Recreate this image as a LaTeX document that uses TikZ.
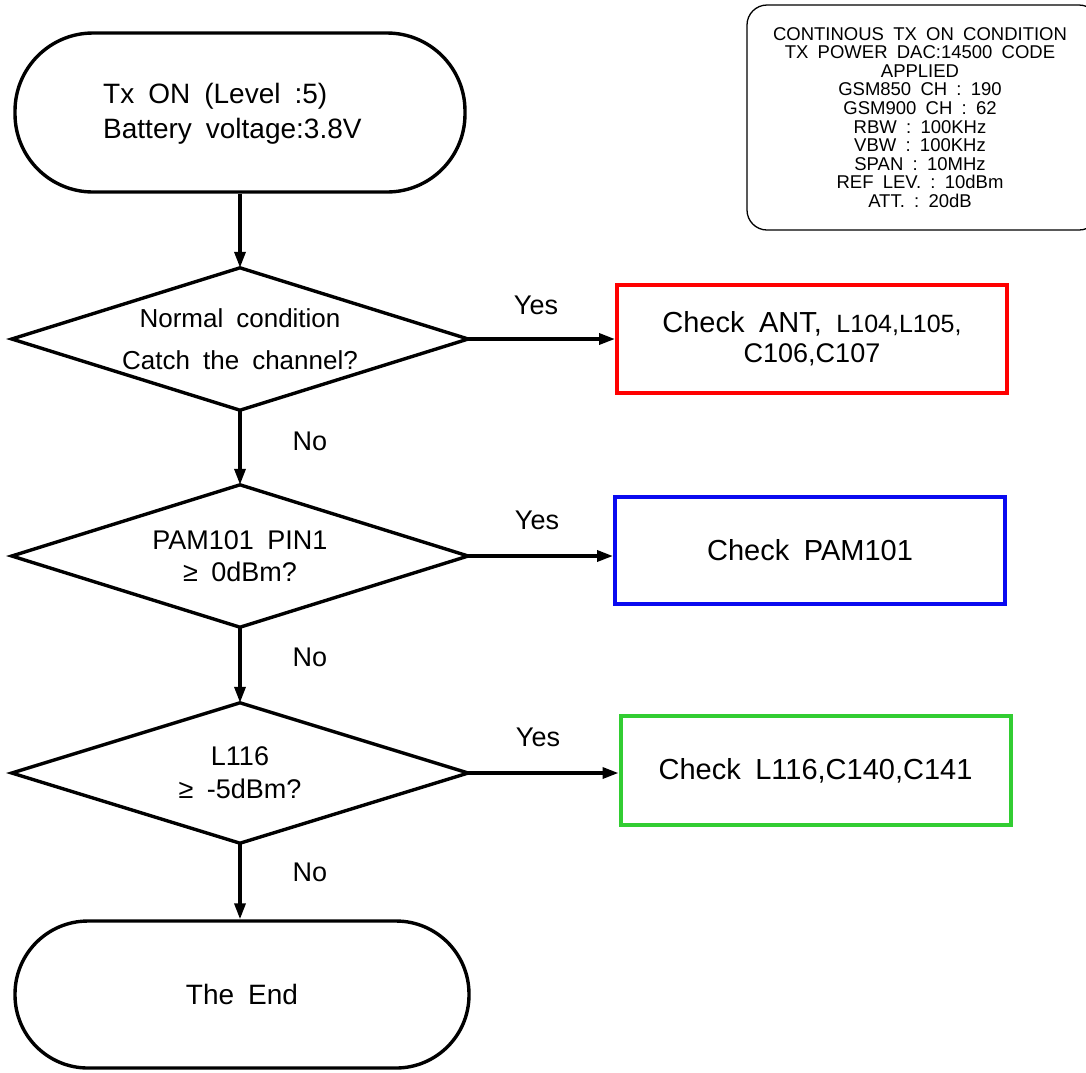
\documentclass[tikz,border=0pt]{standalone}
\usepackage{fontspec}
\setmainfont{Liberation Sans}
\usetikzlibrary{arrows.meta}
\newcommand\wsp{\hspace{0.5em}}
\definecolor{cred}{RGB}{255,0,0}
\definecolor{cblue}{RGB}{10,10,240}
\definecolor{cgreen}{RGB}{50,205,50}
\begin{document}
\begin{tikzpicture}[x=1pt,y=-1pt,
  arr/.style={line width=3.4pt,-{Triangle[length=16pt,width=11pt]}},
  term/.style={draw,line width=3.4pt,rectangle,inner sep=0pt},
  dec/.style={rectangle,inner sep=0pt,align=center,minimum width=456pt},
  decline/.style={line width=3.4pt,line join=miter},
  chk/.style={draw,line width=4pt,rectangle,inner sep=0pt,align=center,
    minimum width=390pt,minimum height=108pt,font=\fontsize{29}{30}\selectfont},
  lbl/.style={font=\fontsize{27}{30}\selectfont,inner sep=0pt}]
\useasboundingbox (0,0) rectangle (1086,1072);

% info box
\node[draw,line width=1.3pt,rounded corners=20pt,minimum width=352pt,minimum height=225pt,
  align=center,inner sep=0pt,font=\fontsize{18.5}{18.6}\selectfont] (info) at (923,117.5)
  {\hspace*{-6pt}CONTINOUS\wsp TX\wsp ON\wsp CONDITION\\
   \hspace*{-6pt}TX\wsp POWER\wsp DAC:14500\wsp CODE\\
   \hspace*{-6pt}APPLIED\\
   \hspace*{-6pt}GSM850\wsp CH\wsp :\wsp 190\\
   \hspace*{-6pt}GSM900\wsp CH\wsp :\wsp 62\\
   \hspace*{-6pt}RBW\wsp :\wsp 100KHz\\
   \hspace*{-6pt}VBW\wsp :\wsp 100KHz\\
   \hspace*{-6pt}SPAN\wsp :\wsp 10MHz\\
   \hspace*{-6pt}REF\wsp LEV.\wsp :\wsp 10dBm\\
   \hspace*{-6pt}ATT.\wsp :\wsp 20dB};

% start terminal
\node[term,rounded corners=78pt,minimum width=450pt,minimum height=159pt] (start) at (240,112.5) {};
\node[align=left,inner sep=0pt,anchor=west,font=\fontsize{28}{35}\selectfont] (starttxt) at (103,114)
  {Tx\wsp ON\wsp (Level\wsp :5)\\Battery\wsp voltage:3.8V};

% decisions
\node[dec,minimum height=142pt,font=\fontsize{26}{42}\selectfont] (d1) at (240,339)
  {Normal\wsp condition\\Catch\wsp the\wsp channel?};
\node[dec,minimum height=142pt,font=\fontsize{27}{32}\selectfont] (d2) at (240,556)
  {PAM101\wsp PIN1\\ ≥\wsp 0dBm?};
\node[dec,minimum height=140pt,font=\fontsize{27}{33}\selectfont] (d3) at (240,773)
  {L116\\ ≥\wsp -5dBm?};
\draw[decline] (d1.north) -- (d1.east) -- (d1.south) -- (d1.west) -- cycle;
\draw[decline] (d2.north) -- (d2.east) -- (d2.south) -- (d2.west) -- cycle;
\draw[decline] (d3.north) -- (d3.east) -- (d3.south) -- (d3.west) -- cycle;

% end terminal
\node[term,rounded corners=73pt,minimum width=454pt,minimum height=147pt,
  font=\fontsize{28}{30}\selectfont] (end) at (242,994.5) {The\wsp End};

% check boxes
\node[chk,draw=cred] (c1) at (812,339)
  {{\fontsize{29}{25}\selectfont Check\wsp ANT,\wsp}{\fontsize{25}{25}\selectfont L104,L105,}\\
   {\fontsize{27}{25}\selectfont C106,C107}};
\node[chk,draw=cblue,minimum height=107pt] (c2) at (810,550.5) {Check\wsp PAM101};
\node[chk,draw=cgreen,minimum height=109pt] (c3) at (815.5,770.5) {Check\wsp L116,C140,C141};

% connectors
\draw[arr] (start.south) -- (d1.north);
\draw[arr] (d1.south) -- (d2.north);
\draw[arr] (d2.south) -- (d3.north);
\draw[arr] (d3.south) -- (d3.south |- end.north);
\draw[arr] (d1.east) -- (d1.east -| c1.west);
\draw[arr] (d2.east) -- (d2.east -| c2.west);
\draw[arr] (d3.east) -- (d3.east -| c3.west);

% labels
\node[lbl] (y1) at (536,305) {Yes};
\node[lbl] (y2) at (537,520) {Yes};
\node[lbl] (y3) at (538,737) {Yes};
\node[lbl] (n1) at (310,441) {No};
\node[lbl] (n2) at (310,657) {No};
\node[lbl] (n3) at (310,872) {No};
\end{tikzpicture}
\end{document}
